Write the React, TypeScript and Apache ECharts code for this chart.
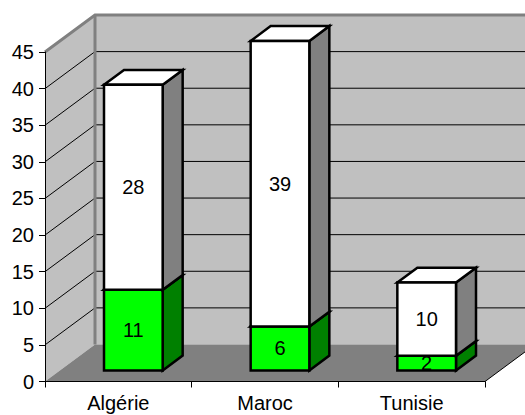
import React, { useEffect, useRef } from "react";
import * as echarts from "echarts";

const categories = ["Algérie", "Maroc", "Tunisie"];
const greenValues = [11, 6, 2];
const whiteValues = [28, 39, 10];
const yMin = 0;
const yMax = 45;
const yInterval = 5;
const yTicks = [0, 5, 10, 15, 20, 25, 30, 35, 40, 45];

const DX = 50;
const DY = -37;
const BAR_FRAC = 0.4;
const BAR_FRONT = 0.3;
const BAR_BACK = 0.7;
const FONT = "'Liberation Sans', Arial, sans-serif";
const FS = 20;

function makeBarSeries(
  name: string,
  values: number[],
  bases: number[],
  front: string,
  side: string,
  top: string,
  z: number
) {
  return {
    name,
    type: "custom",
    z,
    clip: false,
    data: values.map((v, i) => [i, bases[i], bases[i] + v, v]),
    encode: { x: 0, y: [1, 2] },
    renderItem: (params: any, api: any) => {
      const idx = api.value(0);
      const lo = api.value(1);
      const hi = api.value(2);
      const v = api.value(3);
      const catW = api.size([1, 0])[0];
      const pLo = api.coord([idx, lo]);
      const pHi = api.coord([idx, hi]);
      const w = catW * BAR_FRAC;
      const ox = DX * BAR_FRONT;
      const oy = DY * BAR_FRONT;
      const dx = DX * (BAR_BACK - BAR_FRONT);
      const dy = DY * (BAR_BACK - BAR_FRONT);
      const xl = pLo[0] - w / 2 + ox;
      const xr = pLo[0] + w / 2 + ox;
      const yb = pLo[1] + oy;
      const yt = pHi[1] + oy;
      const stroke = { stroke: "#000", lineWidth: 2.5, lineJoin: "miter" };
      return {
        type: "group",
        children: [
          {
            type: "polygon",
            shape: { points: [[xr, yb], [xr + dx, yb + dy], [xr + dx, yt + dy], [xr, yt]] },
            style: { fill: side, ...stroke },
          },
          {
            type: "polygon",
            shape: { points: [[xl, yt], [xr, yt], [xr + dx, yt + dy], [xl + dx, yt + dy]] },
            style: { fill: top, ...stroke },
          },
          {
            type: "polygon",
            shape: { points: [[xl, yb], [xr, yb], [xr, yt], [xl, yt]] },
            style: { fill: front, ...stroke },
          },
          {
            type: "text",
            z2: 10,
            style: {
              text: String(v),
              x: (xl + xr) / 2,
              y: (yb + yt) / 2,
              align: "center",
              verticalAlign: "middle",
              fontSize: FS,
              fontFamily: FONT,
              fill: "#000",
            },
          },
        ],
      };
    },
  };
}

export default function App() {
  const ref = useRef<HTMLDivElement>(null);
  useEffect(() => {
    if (!ref.current) return;
    const chart = echarts.init(ref.current, undefined, { renderer: "svg" });
    const bases0 = greenValues.map(() => 0);
    const option: any = {
      animation: false,
      backgroundColor: "#fff",
      grid: { left: 45, right: 40, top: 52, bottom: 33.5, containLabel: false },
      xAxis: {
        type: "category",
        data: categories,
        boundaryGap: true,
        axisLine: { show: true, lineStyle: { color: "#000", width: 1 } },
        axisTick: { show: true, length: 6, alignWithLabel: false, interval: 0, lineStyle: { color: "#000" } },
        axisLabel: { fontSize: FS, color: "#000", fontFamily: FONT, margin: 11, interval: 0 },
        splitLine: { show: false },
        z: 5,
      },
      yAxis: {
        type: "value",
        min: yMin,
        max: yMax,
        interval: yInterval,
        axisLine: { show: true, lineStyle: { color: "#000", width: 1 } },
        axisTick: { show: true, length: 6, lineStyle: { color: "#000" } },
        axisLabel: { fontSize: FS, color: "#000", fontFamily: FONT, margin: 11 },
        splitLine: { show: false },
        z: 5,
      },
      series: [
        {
          name: "walls",
          type: "custom",
          z: -1,
          clip: false,
          silent: true,
          data: [[0, 0]],
          renderItem: (params: any, api: any) => {
            const cs = params.coordSys;
            const x0 = cs.x;
            const x1 = cs.x + cs.width;
            const yTop = cs.y;
            const yBot = cs.y + cs.height;
            const children: any[] = [];
            children.push({
              type: "polygon",
              shape: { points: [[x0 + DX, yTop + DY], [x1 + DX, yTop + DY], [x1 + DX, yBot + DY], [x0 + DX, yBot + DY]] },
              style: { fill: "#c0c0c0" },
            });
            children.push({
              type: "polygon",
              shape: { points: [[x0, yBot], [x0, yTop], [x0 + DX, yTop + DY], [x0 + DX, yBot + DY]] },
              style: { fill: "#c0c0c0" },
            });
            children.push({
              type: "polygon",
              shape: { points: [[x0, yBot], [x1, yBot], [x1 + DX, yBot + DY], [x0 + DX, yBot + DY]] },
              style: { fill: "#808080" },
            });
            yTicks.forEach((t) => {
              if (t === yMin || t === yMax) return;
              const y = api.coord([0, t])[1];
              children.push({
                type: "polyline",
                shape: { points: [[x0, y], [x0 + DX, y + DY], [x1 + DX, y + DY]] },
                style: { stroke: "#000", lineWidth: 1, fill: null },
              });
            });
            children.push({
              type: "polyline",
              shape: { points: [[x0, yTop], [x0 + DX, yTop + DY], [x1 + DX, yTop + DY]] },
              style: { stroke: "#808080", lineWidth: 3, fill: null },
            });
            children.push({
              type: "line",
              shape: { x1: x0 + DX, y1: yTop + DY, x2: x0 + DX, y2: yBot + DY },
              style: { stroke: "#808080", lineWidth: 3 },
            });
            children.push({
              type: "line",
              shape: { x1: x1, y1: yBot, x2: x1 + DX, y2: yBot + DY },
              style: { stroke: "#000", lineWidth: 1 },
            });
            return { type: "group", children };
          },
        },
        makeBarSeries("green", greenValues, bases0, "#00ff00", "#008000", "#00ff00", 2),
        makeBarSeries("white", whiteValues, greenValues, "#ffffff", "#808080", "#ffffff", 3),
      ],
    };
    chart.setOption(option);
    return () => chart.dispose();
  }, []);
  return (
    <div
      ref={ref}
      style={{ position: "absolute", left: 0, top: 0, width: 525, height: 415, background: "#fff" }}
    />
  );
}
